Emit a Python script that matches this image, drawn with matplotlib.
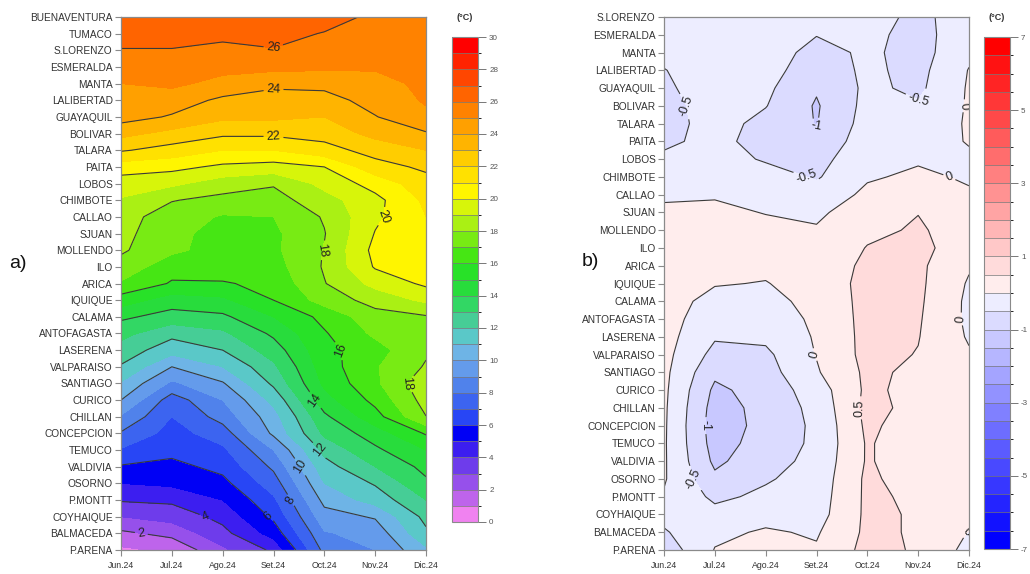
import numpy as np
import matplotlib
matplotlib.use("Agg")
import matplotlib.pyplot as plt
from matplotlib.colors import ListedColormap, BoundaryNorm

plt.rcParams['font.family'] = ['Liberation Sans', 'DejaVu Sans']
plt.rcParams['contour.negative_linestyle'] = 'solid'

months = ["Jun.24", "Jul.24", "Ago.24", "Set.24", "Oct.24", "Nov.24", "Dic.24"]

stations_a = ["BUENAVENTURA", "TUMACO", "S.LORENZO", "ESMERALDA", "MANTA", "LALIBERTAD",
              "GUAYAQUIL", "BOLIVAR", "TALARA", "PAITA", "LOBOS", "CHIMBOTE", "CALLAO",
              "SJUAN", "MOLLENDO", "ILO", "ARICA", "IQUIQUE", "CALAMA", "ANTOFAGASTA",
              "LASERENA", "VALPARAISO", "SANTIAGO", "CURICO", "CHILLAN", "CONCEPCION",
              "TEMUCO", "VALDIVIA", "OSORNO", "P.MONTT", "COYHAIQUE", "BALMACEDA", "P.ARENA"]
stations_b = stations_a[2:]

# ---- panel a) mean temperature (degC), one list per month, stations top->bottom
temp_jun = [26.8, 26.4, 25.95, 25.5, 25.0, 24.7, 24.4, 23.3, 22.1, 20.5, 19.5, 18.9, 18.4, 18.3,
            18.15, 17.6, 16.9, 15.5, 14.2, 13.3, 12.6, 11.9, 10.9, 10.0, 8.9, 7.9, 6.9, 5.9,
            5.0, 4.1, 3.0, 1.8, 0.8]
temp_jul = [26.8, 26.4, 25.95, 25.6, 25.2, 24.5, 23.9, 22.7, 21.6, 20.3, 19.2, 18.05, 17.5,
            17.3, 17.2, 16.4, 15.9, 14.5, 13.6, 12.3, 11.4, 10.0, 8.8, 7.5, 7.0, 6.6, 6.3,
            5.7, 5.2, 4.2, 3.4, 2.3, 1.2]
temp_ago = [26.8, 26.3, 25.7, 25.3, 24.7, 23.8, 23.2, 22.2, 21.0, 19.8, 18.5, 17.7, 16.9,
            16.6, 16.6, 16.6, 15.9, 14.8, 13.8, 12.8, 12.0, 11.0, 9.9, 9.0, 8.4, 7.5, 6.8,
            6.3, 5.7, 5.0, 4.3, 3.7, 2.8]
temp_set = [26.6, 26.3, 25.95, 25.3, 24.2, 23.6, 23.2, 22.2, 21.0, 19.6, 18.1, 17.6, 17.0,
            16.8, 16.8, 16.6, 16.3, 16.0, 15.0, 14.2, 13.5, 12.8, 12.2, 11.3, 10.6, 10.2,
            9.0, 8.2, 7.5, 6.8, 6.2, 5.4, 4.2]
temp_oct = [26.4, 25.95, 25.7, 25.2, 24.3, 23.6, 23.0, 22.4, 21.6, 20.0, 19.3, 18.6, 18.1,
            17.95, 18.05, 18.1, 17.95, 17.4, 16.3, 15.9, 15.7, 15.5, 15.2, 14.6, 13.8, 13.2,
            12.3, 11.6, 11.0, 10.3, 9.6, 8.9, 8.3]
temp_nov = [25.8, 25.6, 25.3, 25.1, 24.7, 24.4, 23.95, 23.3, 22.4, 21.6, 20.4, 19.7, 19.8,
            20.05, 20.3, 20.1, 19.3, 18.4, 17.6, 17.2, 16.6, 16.9, 16.8, 16.3, 15.6, 14.5,
            13.8, 13.0, 12.1, 11.4, 10.1, 9.4, 9.0]
temp_dic = [25.6, 25.5, 25.4, 25.3, 25.2, 25.1, 24.8, 23.9, 23.0, 22.2, 21.6, 21.2, 21.0,
            20.9, 20.8, 20.6, 20.2, 19.2, 17.9, 17.6, 17.85, 18.1, 18.7, 18.4, 17.98, 16.1,
            15.0, 14.3, 13.8, 13.0, 12.3, 11.8, 10.8]

# ---- panel b) anomaly (degC)
anom_jun = [-0.2, -0.25, -0.35, -0.52, -0.6, -0.7, -0.7, -0.6, -0.4, -0.25, -0.08, 0.1, 0.15,
            0.2, 0.2, 0.2, 0.2, 0.2, 0.18, 0.15, 0.12, 0.1, 0.08, 0.07, 0.06, 0.06, 0.05,
            -0.05, -0.35, -0.55, -0.8]
anom_jul = [-0.15, -0.15, -0.15, -0.2, -0.2, -0.25, -0.3, -0.35, -0.3, -0.15, -0.05, 0.12, 0.2,
            0.2, 0.15, 0.03, -0.15, -0.3, -0.45, -0.65, -0.9, -1.1, -1.2, -1.25, -1.2, -1.1,
            -0.9, -0.6, -0.35, -0.1, 0.02]
anom_ago = [-0.1, -0.15, -0.2, -0.3, -0.4, -0.48, -0.65, -0.7, -0.55, -0.3, -0.15, -0.02, 0.15,
            0.2, 0.1, -0.02, -0.15, -0.3, -0.4, -0.6, -0.7, -0.8, -0.85, -0.85, -0.8, -0.7,
            -0.55, -0.4, -0.15, 0.05, 0.1]
anom_set = [-0.2, -0.48, -0.7, -0.8, -0.95, -1.05, -1.02, -0.85, -0.7, -0.55, -0.3, -0.1, 0.05,
            0.15, 0.2, 0.2, 0.15, 0.1, 0.05, 0.02, -0.05, -0.25, -0.35, -0.4, -0.4, -0.35,
            -0.3, -0.25, -0.2, -0.05, 0.05]
anom_oct = [-0.25, -0.35, -0.4, -0.4, -0.4, -0.35, -0.3, -0.25, -0.1, -0.05, 0.1, 0.3, 0.4,
            0.52, 0.6, 0.65, 0.65, 0.65, 0.65, 0.65, 0.6, 0.6, 0.65, 0.6, 0.55, 0.55, 0.6,
            0.6, 0.6, 0.6, 0.65]
anom_nov = [-0.65, -0.7, -0.7, -0.65, -0.6, -0.45, -0.3, -0.15, -0.05, 0.08, 0.3, 0.49, 0.55,
            0.6, 0.6, 0.6, 0.58, 0.55, 0.52, 0.48, 0.4, 0.35, 0.35, 0.25, 0.2, 0.2, 0.25,
            0.4, 0.45, 0.45, 0.45]
anom_dic = [-0.2, -0.15, -0.1, 0.02, 0.05, 0.05, 0.05, 0.02, -0.05, -0.05, 0.05, 0.15, 0.3,
            0.3, 0.05, -0.05, -0.1, -0.1, -0.05, 0.05, 0.15, 0.2, 0.2, 0.2, 0.2, 0.2, 0.2,
            0.2, 0.15, -0.02, -0.15]

levels_a = np.arange(0, 31, 1)
lines_a = np.arange(2, 30, 2)
ticks_a = np.arange(0, 31, 2)
levels_b = np.arange(-7, 7.5, 0.5)
lines_b = np.arange(-7, 7.5, 0.5)
ticks_b = np.arange(-7, 8, 2)

colors_a = ["#f082f0", "#be64eb", "#9650eb", "#6e3ceb", "#3c1ef0", "#0000f5", "#2846f5",
            "#3c64f0", "#5082eb", "#649beb", "#6eb4e6", "#5ac8c8", "#46cd96", "#32d764",
            "#28dc3c", "#28e128", "#46e614", "#78eb14", "#aaf014", "#d7f50a", "#fff500",
            "#ffe100", "#ffcd00", "#ffb400", "#ffa000", "#ff8200", "#ff6400", "#ff4600",
            "#ff2300", "#ff0000"]
cmap_a = ListedColormap(colors_a)
norm_a = BoundaryNorm(levels_a, cmap_a.N)

# blue-white-red band colours for panel b
cols_b = []
for c in (levels_b[:-1] + levels_b[1:]) / 2:
    t = min((abs(c) + 0.25) / 7.0, 1.0)
    if c < 0:
        cols_b.append((1 - t, 1 - t, 1.0))
    else:
        cols_b.append((1.0, 1 - t, 1 - t))
cmap_b = ListedColormap(cols_b)
norm_b = BoundaryNorm(levels_b, cmap_b.N)

Za = np.column_stack([temp_jun, temp_jul, temp_ago, temp_set, temp_oct, temp_nov, temp_dic])
Zb = np.column_stack([anom_jun, anom_jul, anom_ago, anom_set, anom_oct, anom_nov, anom_dic])

W, H = 1030, 574
fig = plt.figure(figsize=(W / 100, H / 100), dpi=100)

def fx(px):
    return px / W

def fy(py):
    return 1 - py / H

ax1 = fig.add_axes([fx(121), fy(550), fx(305), 533 / H])
ax2 = fig.add_axes([fx(664), fy(550), fx(305), 533 / H])
cax1 = fig.add_axes([fx(452), fy(522), fx(26), 485 / H])
cax2 = fig.add_axes([fx(984), fy(549), fx(26), 512 / H])

line_col = "#3a3a3a"
spine_col = "#8a8a8a"
lab_col = "#333333"

def draw_panel(ax, Z, stations, levels, cmap, norm, lines):
    x = np.arange(len(months))
    y = np.arange(len(stations))
    cf = ax.contourf(x, y, Z, levels=levels, cmap=cmap, norm=norm)
    cs = ax.contour(x, y, Z, levels=lines, colors=line_col, linewidths=0.8,
                    linestyles="solid")
    ax.clabel(cs, fmt="%g", fontsize=9, inline=True, inline_spacing=3, colors="#222222")
    ax.set_xlim(0, len(months) - 1)
    ax.set_ylim(len(stations) - 1, 0)
    ax.set_xticks(x)
    ax.set_xticklabels(months)
    ax.set_yticks(y)
    ax.set_yticklabels(stations)
    ax.tick_params(axis="both", direction="out", length=4, width=0.8, color=spine_col,
                   labelcolor=lab_col, pad=2)
    ax.tick_params(axis="y", labelsize=7.3)
    ax.tick_params(axis="x", labelsize=6.3, pad=4)
    for s in ax.spines.values():
        s.set_color(spine_col)
        s.set_linewidth(0.9)
    return cf

cf1 = draw_panel(ax1, Za, stations_a, levels_a, cmap_a, norm_a, lines_a)
cf2 = draw_panel(ax2, Zb, stations_b, levels_b, cmap_b, norm_b, lines_b)

for cf, cax, ticks in ((cf1, cax1, ticks_a), (cf2, cax2, ticks_b)):
    cb = fig.colorbar(cf, cax=cax, ticks=ticks, drawedges=True)
    cb.dividers.set_color("#777777")
    cb.dividers.set_linewidth(0.5)
    cb.outline.set_edgecolor(spine_col)
    cb.outline.set_linewidth(0.8)
    cax.tick_params(labelsize=5.8, length=6, width=0.7, color="#777777",
                    labelcolor="#555555", pad=2)
    cax.set_yticklabels(["%g" % t for t in ticks])

fig.text(fx(465), fy(18), "(°C)", fontsize=6.5, fontweight="bold", ha="center", va="center",
         color="#333333")
fig.text(fx(997), fy(18), "(°C)", fontsize=6.5, fontweight="bold", ha="center", va="center",
         color="#333333")
fig.text(fx(9), fy(264), "a)", fontsize=14, ha="left", va="center", color="#111111")
fig.text(fx(582), fy(262), "b)", fontsize=14, ha="left", va="center", color="#111111")

fig.savefig("out.png", dpi=100)
